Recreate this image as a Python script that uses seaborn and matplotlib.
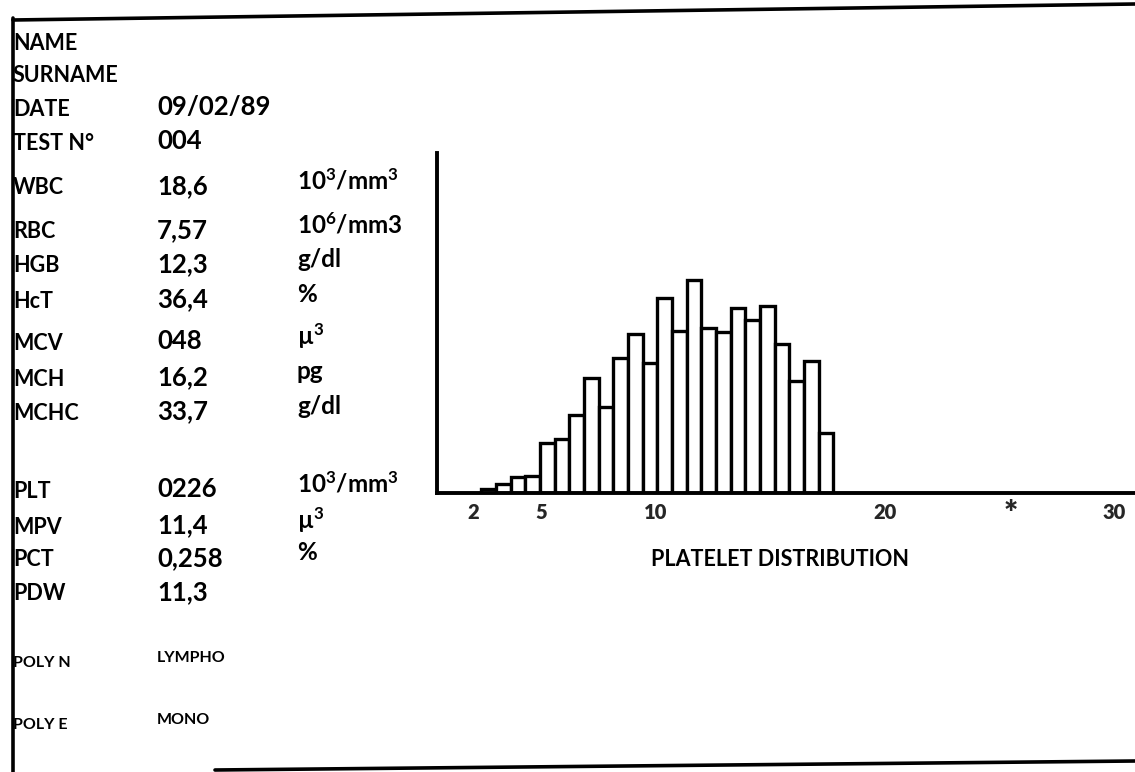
import numpy as np
import pandas as pd
import matplotlib
matplotlib.use('Agg')
import matplotlib.pyplot as plt
import seaborn as sns
from matplotlib.lines import Line2D

sns.set_theme(style='white')
plt.rcParams['font.family'] = ['Lato', 'DejaVu Sans']
plt.rcParams['mathtext.default'] = 'regular'

# ---------------- data ----------------
header_labels = ['NAME', 'SURNAME', 'DATE', 'TEST N°']
header_values = ['', '', '09/02/89', '004']

blood_labels = ['WBC', 'RBC', 'HGB', 'HcT', 'MCV', 'MCH', 'MCHC']
blood_values = ['18,6', '7,57', '12,3', '36,4', '048', '16,2', '33,7']
blood_units = [r'$10^3/mm^3$', r'$10^6/mm3$', 'g/dl', '%', r'$µ^3$', 'pg', 'g/dl']

plt_labels = ['PLT', 'MPV', 'PCT', 'PDW']
plt_values = ['0226', '11,4', '0,258', '11,3']
plt_units = [r'$10^3/mm^3$', r'$µ^3$', '%', '']

poly_labels = ['POLY N', 'POLY E']
poly_values = ['LYMPHO', 'MONO']

# platelet volume histogram (bin centres, relative counts)
volume_bins = [2.70, 3.34, 3.98, 4.62, 5.26, 5.90, 6.54, 7.18, 7.82, 8.46, 9.10, 9.74,
               10.38, 11.02, 11.66, 12.30, 12.94, 13.58, 14.22, 14.86, 15.50, 16.14, 16.78, 17.42]
bin_counts = [1.2, 2.7, 4.8, 5.1, 15.0, 16.2, 23.5, 34.5, 25.8, 40.5, 47.8, 39.0,
              58.5, 48.5, 64.0, 49.5, 48.2, 55.5, 52.0, 56.0, 44.8, 33.5, 39.7, 18.0]

tick_values = [2, 5, 10, 20, 25.5, 30]
tick_labels = ['2', '5', '10', '20', '*', '30']
xlabel_text = 'PLATELET DISTRIBUTION'

# ---------------- figure ----------------
W, H = 1135, 772
fig = plt.figure(figsize=(W / 100, H / 100), dpi=100)
fig.patch.set_facecolor('white')


def fx(x):
    return x / W


def fy(y):
    return 1 - y / H


def put(x, y, s, size, weight='bold'):
    fig.text(fx(x), fy(y), s, fontsize=size, fontweight=weight,
             ha='left', va='center', color='black')


LAB_X, VAL_X, UNIT_X = 13, 157, 297
LAB_FS, VAL_FS, UNIT_FS = 15.5, 18.5, 17.5

header_y = [43, 75, 108, 142]
for lab, val, y in zip(header_labels, header_values, header_y):
    put(LAB_X, y + 1, lab, LAB_FS)
    if val:
        put(VAL_X, y - 1, val, VAL_FS)

blood_y = [187, 231, 265, 300, 342, 378, 412]
for lab, val, unit, y in zip(blood_labels, blood_values, blood_units, blood_y):
    put(LAB_X, y + 1, lab, LAB_FS)
    put(VAL_X, y - 1, val, VAL_FS)
    put(UNIT_X, y - 6, unit, UNIT_FS)

plt_y = [490, 526, 559, 593]
for lab, val, unit, y in zip(plt_labels, plt_values, plt_units, plt_y):
    put(LAB_X, y + 1, lab, LAB_FS)
    put(VAL_X, y - 1, val, VAL_FS)
    if unit:
        put(UNIT_X, y - 6, unit, UNIT_FS)

poly_y = [662, 724]
for lab, val, y in zip(poly_labels, poly_values, poly_y):
    put(LAB_X, y + 1, lab, 11.5)
    put(VAL_X, y - 4, val, 11.5)

# frame lines
frame = [((13, 20), (1135, 4)), ((13, 18), (13, 772)), ((215, 770), (1135, 761))]
for (x0, y0), (x1, y1) in frame:
    fig.add_artist(Line2D([fx(x0), fx(x1)], [fy(y0), fy(y1)],
                          transform=fig.transFigure, color='black', lw=2.6))

# histogram axes
ax_left, ax_right, ax_top, ax_bottom = 437, 1135, 153, 493
ax = fig.add_axes([fx(ax_left), fy(ax_bottom), fx(ax_right - ax_left), (ax_bottom - ax_top) / H])
df = pd.DataFrame({'volume': volume_bins, 'count': bin_counts})
sns.histplot(data=df, x='volume', weights='count', bins=24, binrange=(2.38, 17.74),
             color='white', edgecolor='black', linewidth=2.4, alpha=1, ax=ax)
ax.set_xlim(0.44, 30.92)
ax.set_ylim(0, 102)
ax.set_facecolor('none')
for side in ['top', 'right']:
    ax.spines[side].set_visible(False)
for side in ['left', 'bottom']:
    ax.spines[side].set_linewidth(2.8)
    ax.spines[side].set_color('black')
ax.set_yticks([])
ax.set_xticks(tick_values)
ax.set_xticklabels(tick_labels, fontsize=14.5, fontweight='heavy')
for lbl in ax.get_xticklabels():
    if lbl.get_text() == '*':
        lbl.set_fontsize(24)
        lbl.set_y(0.012)
ax.tick_params(axis='x', length=0, pad=7)
ax.set_xlabel('')
ax.set_ylabel('')
ax.grid(False)

fig.text(fx(780), fy(560), xlabel_text, fontsize=15.5, fontweight='bold',
         ha='center', va='center', color='black')

fig.savefig('out.png', dpi=100, facecolor='white')
